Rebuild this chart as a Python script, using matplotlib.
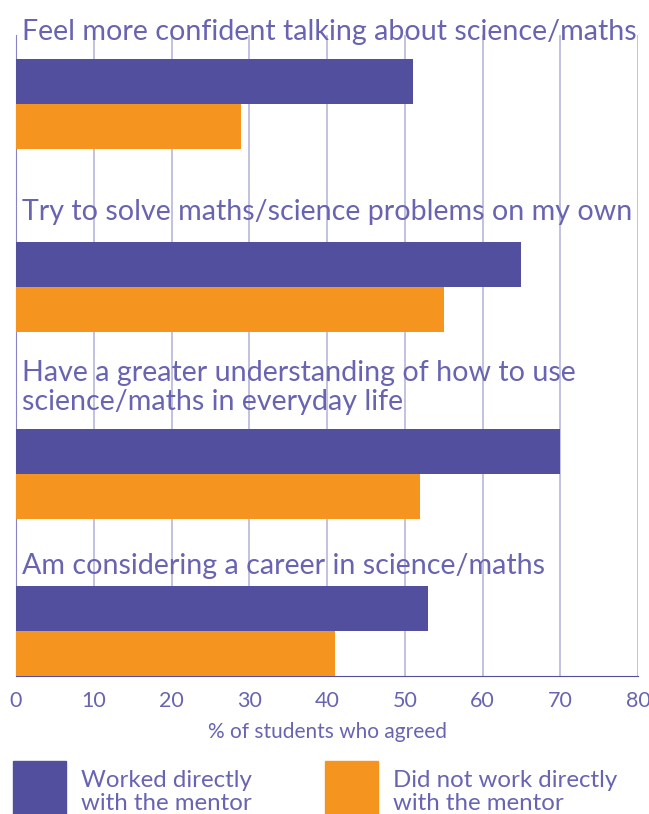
import matplotlib.pyplot as plt
from matplotlib.patches import Rectangle

categories = [
    "Feel more confident talking about science/maths",
    "Try to solve maths/science problems on my own",
    "Have a greater understanding of how to use\nscience/maths in everyday life",
    "Am considering a career in science/maths",
]
worked = [51, 65, 70, 53]
not_worked = [29, 55, 52, 41]
series_names = ["Worked directly\nwith the mentor", "Did not work directly\nwith the mentor"]
xticks = [0, 10, 20, 30, 40, 50, 60, 70, 80]

# layout (axes y runs in pixel-like units, top = 35, bottom = 676)
split_y = [104, 287, 474, 631]
label_y = [40, 220, 410, 574]
bar_h = 45

purple = "#524F9F"
orange = "#F5951F"
text_c = "#6864B2"
grid_c = "#B9B6DC"

plt.rcParams['font.family'] = ['Lato', 'DejaVu Sans']

W, H = 649, 814
fig = plt.figure(figsize=(W / 100, H / 100), dpi=100)
ax = fig.add_axes([16 / W, (H - 676) / H, (638 - 16) / W, (676 - 35) / H])
ax.set_xlim(0, 80)
ax.set_ylim(676, 35)

for i in range(len(categories)):
    ax.barh(split_y[i] - bar_h / 2, worked[i], height=bar_h, color=purple, zorder=3)
    ax.barh(split_y[i] + bar_h / 2, not_worked[i], height=bar_h, color=orange, zorder=3)
    ax.text(0.8, label_y[i], categories[i], color=text_c, fontsize=20.6,
            va='baseline', ha='left', linespacing=1.15, zorder=2)

ax.set_xticks(xticks)
ax.set_yticks([])
ax.grid(axis='x', color=grid_c, linewidth=1.2, zorder=1)
ax.set_axisbelow(True)
for s in ['top', 'right']:
    ax.spines[s].set_visible(False)
ax.spines['left'].set_color("#8783C4")
ax.spines['bottom'].set_color(purple)
ax.tick_params(axis='x', length=0, pad=11, labelsize=15.5, labelcolor=text_c)
ax.set_xlabel("% of students who agreed", fontsize=15, color=text_c, labelpad=8)

# legend
for x0, col, name in [(12.5, purple, series_names[0]), (325, orange, series_names[1])]:
    fig.add_artist(Rectangle((x0 / W, 0), 53.5 / W, (814 - 761) / H,
                             transform=fig.transFigure, color=col))
    fig.text((x0 + 68.5) / W, (H - 810) / H, name, color=text_c, fontsize=17.3,
             va='baseline', ha='left', linespacing=1.12)

fig.savefig("out.png", dpi=100)
